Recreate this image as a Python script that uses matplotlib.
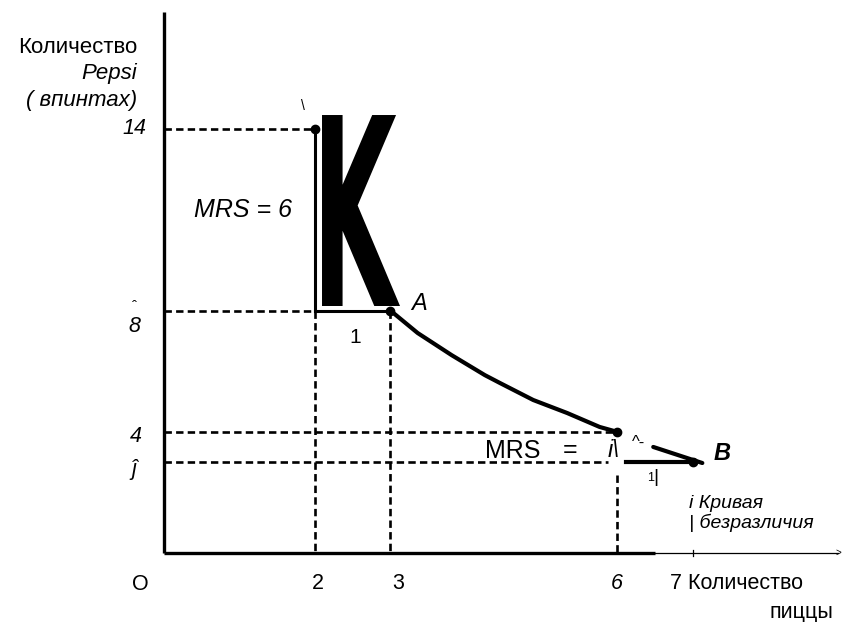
import matplotlib
matplotlib.use("Agg")
import matplotlib.pyplot as plt
from matplotlib.patheffects import AbstractPathEffect
from matplotlib.transforms import Affine2D

plt.rcParams['font.family'] = ['Liberation Sans', 'DejaVu Sans']

# ---- data ----
x_ticks = [2, 3, 6, 7]
x_tick_labels = ["2", "3", "6", "7"]
y_ticks = [14, 8, 4, 3]
y_tick_labels = ["14", "8", "4", "ĵ"]

points_x = [2, 3, 6, 7]
points_y = [14, 8, 4, 3]

curve_x = [3.0, 3.36, 3.81, 4.25, 4.45, 4.89, 5.34, 5.77, 6.0]
curve_y = [8.0, 7.26, 6.53, 5.87, 5.61, 5.05, 4.62, 4.16, 4.0]
curve2_x = [6.48, 7.13]
curve2_y = [3.50, 2.97]


class FitBox(AbstractPathEffect):
    """Draw a glyph stretched to fill a box given in data coordinates."""
    def __init__(self, ax, x0, y0, x1, y1):
        super().__init__()
        self.ax = ax
        self.box = (x0, y0, x1, y1)

    def draw_path(self, renderer, gc, tpath, affine, rgbFace=None):
        ext = tpath.get_extents(affine)
        (bx0, by0), (bx1, by1) = self.ax.transData.transform(
            [(self.box[0], self.box[1]), (self.box[2], self.box[3])])
        sx = (bx1 - bx0) / max(ext.width, 1e-6)
        sy = (by1 - by0) / max(ext.height, 1e-6)
        new = affine + Affine2D().translate(-ext.x0, -ext.y0).scale(sx, sy).translate(bx0, by0)
        renderer.draw_path(gc, tpath, new, rgbFace)


fig = plt.figure(figsize=(8.42, 6.22), dpi=100)
ax = fig.add_axes([0, 0, 1, 1])
ax.set_xlim(-2.172, 8.980)
ax.set_ylim(-2.277, 18.251)
ax.axis('off')

K = 'black'
dash = dict(color=K, lw=1.9, ls=(0, (2.8, 1.6)))

# axes
ax.plot([0, 0], [0, 17.85], color=K, lw=2.4, solid_capstyle='butt')
ax.plot([0, 6.5], [0, 0], color=K, lw=2.4, solid_capstyle='butt')
ax.plot([6.5, 8.93], [0, 0], color=K, lw=0.9)
ax.plot([x_ticks[-1]] * 2, [-0.1, 0.1], color=K, lw=0.9)
ax.text(8.93, 0, ">", fontsize=7, ha='center', va='center')

# dashed guides
p = list(zip(points_x, points_y))
ax.plot([0, p[0][0]], [p[0][1]] * 2, **dash)
ax.plot([0, p[0][0]], [p[1][1]] * 2, **dash)
ax.plot([p[0][0]] * 2, [p[1][1], 0], **dash)
ax.plot([p[1][0]] * 2, [p[1][1], 0], **dash)
ax.plot([0, p[2][0]], [p[2][1]] * 2, **dash)
ax.plot([0, p[2][0] - 0.12], [p[3][1]] * 2, **dash)
ax.plot([p[2][0]] * 2, [2.57, 0], **dash)

# MRS legs
ax.plot([p[0][0]] * 2, [p[0][1], p[1][1]], color=K, lw=2.2)
ax.plot([p[0][0], p[1][0]], [p[1][1]] * 2, color=K, lw=2.2)
ax.plot([p[2][0] + 0.12, p[3][0]], [p[3][1]] * 2, color=K, lw=3.0)

# indifference curve
ax.plot(curve_x, curve_y, color=K, lw=3.0, solid_capstyle='round', solid_joinstyle='round')
ax.plot(curve2_x, curve2_y, color=K, lw=3.0, solid_capstyle='round')
ax.plot(points_x, points_y, 'o', color=K, ms=6)

# tick labels
ax.text(-0.238, 14, y_tick_labels[0], fontsize=15.5, style='italic', ha='right', va='center')
ax.text(-0.397, 7.46, y_tick_labels[1], fontsize=15.5, style='italic', ha='center', va='center')
ax.text(-0.397, 7.90, "ˆ", fontsize=11, ha='center', va='bottom')
ax.text(-0.377, 3.83, y_tick_labels[2], fontsize=15.5, style='italic', ha='center', va='center')
ax.text(-0.40, 2.77, y_tick_labels[3], fontsize=15.5, style='italic', ha='center', va='center')

ax.text(-0.318, -1.05, "О", fontsize=15.5, ha='center', va='center')
ax.text(2.04, -1.02, x_tick_labels[0], fontsize=15.5, ha='center', va='center')
ax.text(3.10, -1.02, x_tick_labels[1], fontsize=15.5, ha='center', va='center')
ax.text(6.0, -1.02, x_tick_labels[2], fontsize=15.5, style='italic', ha='center', va='center')
ax.text(6.70, -0.99, x_tick_labels[3] + " Количество", fontsize=15.5, ha='left', va='center')
ax.text(8.86, -2.14, "пиццы", fontsize=15.5, ha='right', va='baseline')

# y-axis title
ax.text(-0.358, 16.67, "Количество", fontsize=16, ha='right', va='center')
ax.text(-0.358, 15.81, "Pepsi", fontsize=16, style='italic', ha='right', va='center')
ax.text(-0.358, 14.92, "( впинтах)", fontsize=16, style='italic', ha='right', va='center')

# annotations
ax.text(1.046, 11.32, "MRS = 6", fontsize=18, style='italic', ha='center', va='center')
ax.text(1.84, 14.75, "\\", fontsize=10, ha='center', va='center')
ax.text(2.61, 11.37, "K", fontsize=24, fontweight='bold', ha='center', va='center',
        family=['DejaVu Sans'],
        path_effects=[FitBox(ax, 2.093, 8.152, 3.126, 14.455)])
ax.text(3.38, 8.25, "A", fontsize=17, style='italic', ha='center', va='center')
ax.text(2.53, 7.10, "1", fontsize=15, ha='center', va='center')

ax.text(4.25, 3.37, "MRS", fontsize=18, ha='left', va='center')
ax.text(5.38, 3.40, "=", fontsize=18, ha='center', va='center')
ax.text(5.88, 3.37, "i\\", fontsize=17, style='italic', ha='left', va='center')
ax.text(6.28, 3.66, "^-", fontsize=12, ha='center', va='center')
ax.text(7.39, 3.30, "B", fontsize=17, style='italic', fontweight='bold', ha='center', va='center')
ax.text(6.44, 2.48, "1", fontsize=9, ha='center', va='center')
ax.text(6.52, 2.48, "|", fontsize=14, ha='center', va='center')

ax.text(6.95, 1.65, "i Кривая", fontsize=14, style='italic', ha='left', va='center')
ax.text(6.95, 0.99, "| безразличия", fontsize=14, style='italic', ha='left', va='center')

fig.savefig("out.png", dpi=100)
